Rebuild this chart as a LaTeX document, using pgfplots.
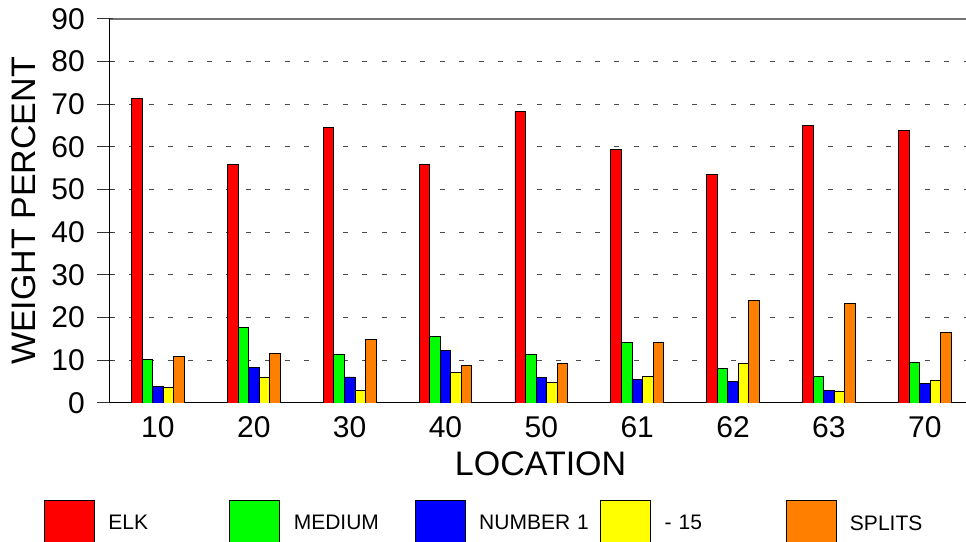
\documentclass[border=0pt]{standalone}
\usepackage{fontspec}
\setmainfont{Liberation Sans}
\usepackage{pgfplots}
\pgfplotsset{compat=1.18}

\definecolor{cElk}{HTML}{FF0000}
\definecolor{cMed}{HTML}{00FF00}
\definecolor{cNum}{HTML}{0000FF}
\definecolor{cFif}{HTML}{FFFF00}
\definecolor{cSpl}{HTML}{FF8000}

\pgfplotsset{
  lgd/.style={legend image code/.code={%
      \path[draw=none, fill=none] (0pt,0pt) rectangle (64pt,0pt);
      \draw[##1, draw=black, line width=0.8pt] (0pt,-23.5pt) rectangle (50pt,23.5pt);}},
}

\begin{document}
\begin{tikzpicture}
  \begin{axis}[
      name=ax,
      scale only axis,
      width=856pt, height=384pt,
      xmin=-0.5, xmax=8.43,
      ymin=0, ymax=90,
      ybar, bar width=0.11,
      axis x line*=bottom,
      axis y line*=left,
      axis line style={black, line width=1pt},
      xtick={0,...,8},
      xticklabels={10,20,30,40,50,61,62,63,70},
      x tick style={draw=none},
      xticklabel style={inner sep=0pt, anchor=north, yshift=-5pt},
      ytick={0,10,...,80},
      extra y ticks={90},
      extra y tick style={grid=major, major grid style={solid, black!55, line width=1.3pt}},
      tick align=center,
      major tick length=16pt,
      y tick style={black!80, line width=1pt, xshift=-5pt},
      yticklabel style={inner sep=0pt, anchor=east, xshift=-17pt},
      ymajorgrids=true,
      major grid style={black!70, line width=1pt, dash pattern=on 5pt off 14.4pt},
      /pgf/number format/assume math mode=true,
      tick label style={font=\fontsize{30}{30}\selectfont},
      xlabel={LOCATION},
      ylabel={WEIGHT PERCENT},
      label style={font=\fontsize{34}{34}\selectfont, inner sep=0pt},
      xlabel style={at={(axis description cs:0.503,-0.1276)}, anchor=north},
      ylabel style={at={(axis description cs:-0.1145,0.5)}, anchor=north},
      legend columns=5,
      legend style={draw=none, fill=none, inner sep=0pt, outer sep=0pt,
        column sep=0pt, font=\fontsize{21}{21}\selectfont,
        at={(-0.0771,-0.3138)}, anchor=west,
        nodes={inner sep=0pt, text width=121pt, align=left}},
      legend cell align=left,
    ]
    \addplot[fill=cElk, draw=black, line width=0.8pt, bar shift=-0.22, lgd] coordinates {
      (0,71.4) (1,55.9) (2,64.5) (3,55.9) (4,68.4) (5,59.5) (6,53.6) (7,65.0) (8,63.9)};
    \addplot[fill=cMed, draw=black, line width=0.8pt, bar shift=-0.11, lgd] coordinates {
      (0,10.2) (1,17.7) (2,11.3) (3,15.7) (4,11.4) (5,14.2) (6,8.0) (7,6.2) (8,9.5)};
    \addplot[fill=cNum, draw=black, line width=0.8pt, bar shift=0, lgd] coordinates {
      (0,3.8) (1,8.4) (2,6.1) (3,12.3) (4,5.9) (5,5.6) (6,5.0) (7,2.9) (8,4.5)};
    \addplot[fill=cFif, draw=black, line width=0.8pt, bar shift=0.11, lgd] coordinates {
      (0,3.7) (1,6.1) (2,3.0) (3,7.2) (4,4.8) (5,6.3) (6,9.3) (7,2.7) (8,5.3)};
    \addplot[fill=cSpl, draw=black, line width=0.8pt, bar shift=0.22, lgd] coordinates {
      (0,10.9) (1,11.7) (2,14.8) (3,8.8) (4,9.3) (5,14.2) (6,24.1) (7,23.3) (8,16.6)};
    \legend{ELK, MEDIUM, NUMBER 1, - 15, SPLITS}
  \end{axis}
  \pgfresetboundingbox
  \path ([xshift=-110pt,yshift=-139pt]ax.south west) rectangle ([yshift=19pt]ax.north east);
\end{tikzpicture}
\end{document}
